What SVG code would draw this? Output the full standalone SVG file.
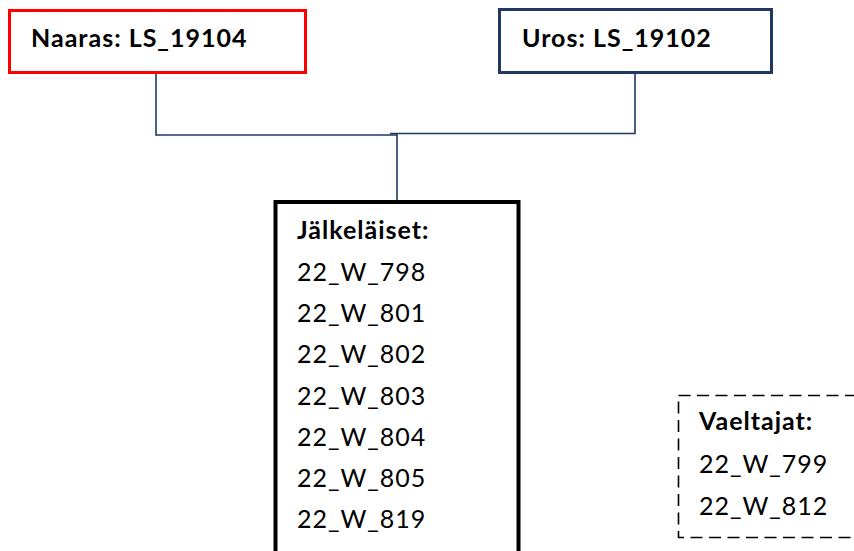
<svg xmlns="http://www.w3.org/2000/svg" width="854" height="551" viewBox="0 0 854 551">
<style>
text{font-family:Lato,"Open Sans","Liberation Sans",sans-serif;font-size:25px;letter-spacing:1px;fill:#000}
.b{font-weight:bold}
.conn{fill:none;stroke:#1F3864;stroke-width:1.6}
</style>
<rect width="854" height="551" fill="#fff"/>
<g id="connectors">
<polyline class="conn" points="156,73 156,135 397,135"/>
<polyline class="conn" points="390,133.5 635,133.5 635,73"/>
<line class="conn" x1="397" y1="134" x2="397" y2="202"/>
</g>
<g id="naaras">
<rect x="9.5" y="10.5" width="296" height="62" fill="#fff" stroke="#FF0000" stroke-width="3"/>
<text class="b" x="31" y="47">Naaras: LS_19104</text>
</g>
<g id="uros">
<rect x="499.5" y="9.5" width="272" height="63" fill="#fff" stroke="#1F3864" stroke-width="3"/>
<text class="b" x="522" y="47">Uros: LS_19102</text>
</g>
<g id="jalkelaiset">
<rect x="275.5" y="202" width="243" height="360" fill="#fff" stroke="#000" stroke-width="4"/>
<text class="b" x="297" y="239">Jälkeläiset:</text>
<text x="297" y="281">22_W_798</text>
<text x="297" y="322">22_W_801</text>
<text x="297" y="363">22_W_802</text>
<text x="297" y="405">22_W_803</text>
<text x="297" y="446">22_W_804</text>
<text x="297" y="487">22_W_805</text>
<text x="297" y="528">22_W_819</text>
</g>
<g id="vaeltajat">
<rect x="678.5" y="395.5" width="200" height="142" fill="none" stroke="#000" stroke-width="1.6" stroke-dasharray="12 6.5"/>
<text class="b" x="699" y="430">Vaeltajat:</text>
<text x="699" y="473">22_W_799</text>
<text x="699" y="515">22_W_812</text>
</g>
</svg>
